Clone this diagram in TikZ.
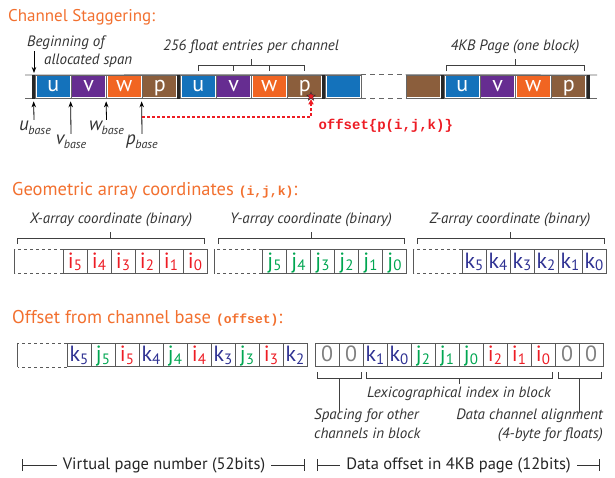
\documentclass[tikz,border=0pt]{standalone}
\usepackage{fontspec}
\setmainfont{PT Sans}
\newfontfamily\codefont{Liberation Mono}
\usetikzlibrary{arrows.meta,shapes.geometric}

\definecolor{ublue}{RGB}{20,114,187}
\definecolor{vpurple}{RGB}{102,45,145}
\definecolor{worange}{RGB}{241,101,34}
\definecolor{pbrown}{RGB}{139,94,60}
\definecolor{headorange}{RGB}{242,112,47}
\definecolor{ired}{RGB}{237,28,36}
\definecolor{jgreen}{RGB}{0,166,81}
\definecolor{kblue}{RGB}{46,49,146}

\newcommand{\bitlbl}[2]{#1\raisebox{-2.5pt}{\fontsize{15}{15}\selectfont #2}}
\newcommand{\baselbl}[1]{{\fontsize{19}{19}\selectfont #1}\kern-0.5pt\raisebox{-4pt}{\fontsize{12}{12}\selectfont base}}

\tikzset{inset/.style={path picture={
    \fill[#1] ([shift={(1.4pt,-1.4pt)}]path picture bounding box.north west)
        rectangle ([shift={(-1.4pt,1.4pt)}]path picture bounding box.south east);}}}

\begin{document}
\begin{tikzpicture}[x=1pt, y=-1pt]
    \tikzstyle{chan}=[
        rectangle,
        draw = black!60,
        line width = 0.7pt,
        inner sep = 0pt,
        minimum width = 35.5pt,
        minimum height = 23.5pt,
        text = white,
        font = \fontsize{22}{22}\selectfont,
        text height = 13pt,
        text depth = 3pt
    ]
    \tikzstyle{bit}=[
        rectangle,
        draw = black!65,
        line width = 0.7pt,
        inner sep = 0pt,
        minimum width = 24pt,
        minimum height = 23.5pt,
        font = \fontsize{22}{22}\selectfont,
        text height = 15pt,
        text depth = 1.5pt
    ]
    \tikzstyle{ibit}=[bit, text=ired]
    \tikzstyle{jbit}=[bit, text=jgreen]
    \tikzstyle{kbit}=[bit, text=kblue]
    \tikzstyle{zbit}=[bit, text=black!50]
    \tikzstyle{head}=[inner sep=0pt, text=headorange, font=\fontsize{18.5}{18.5}\selectfont]
    \tikzstyle{note}=[inner sep=1pt, text=black!80, font=\fontsize{15}{19}\selectfont\itshape]
    \tikzstyle{rulerlabel}=[inner xsep=6pt, fill=white, text=black!85, font=\fontsize{16.5}{16.5}\selectfont]
    \tikzstyle{strip}=[black!60, line width=0.8pt]
    \tikzstyle{gapline}=[black!60, line width=0.8pt, dash pattern=on 5pt off 4pt]
    \tikzstyle{bitgap}=[black!65, line width=0.7pt, dash pattern=on 3pt off 3pt]
    \tikzstyle{bitedge}=[black!65, line width=0.7pt]
    \tikzstyle{sepbar}=[black!85, line width=3pt]
    \tikzstyle{bracket}=[black!75, line width=0.7pt]
    \tikzstyle{ptr}=[black, line width=0.8pt, -{Stealth[length=6pt,width=4.5pt]}]
    \tikzstyle{offline}=[color=ired, line width=1.1pt, dash pattern=on 3pt off 2pt,
        -{Triangle[length=5pt,width=5pt]}]
    \tikzstyle{ruler}=[black!80, line width=0.7pt, {Bar[width=12pt]}-{Bar[width=12pt]}]

    \useasboundingbox (0,0) rectangle (615,477);

    % channel staggering
    \node[head, anchor=base west, font=\fontsize{17}{17}\selectfont] (head1) at (8,21) {Channel Staggering:};

    \node[chan, inset=ublue]    (a-u)    at (53.25, 86.75)  {u};
    \node[chan, inset=vpurple]  (a-v)    at (88.75, 86.75)  {v};
    \node[chan, inset=worange]  (a-w)    at (124.25, 86.75) {w};
    \node[chan, inset=pbrown]   (a-p)    at (159.75, 86.75) {p};
    \node[chan, inset=ublue]    (b-u)    at (198.25, 86.75) {u};
    \node[chan, inset=vpurple]  (b-v)    at (233.75, 86.75) {v};
    \node[chan, inset=worange]  (b-w)    at (269.25, 86.75) {w};
    \node[chan, inset=pbrown]   (b-p)    at (304.75, 86.75) {p};
    \node[chan, inset=ublue]    (b-next) at (343.25, 86.75) {};
    \node[chan, inset=pbrown]   (c-prev) at (423.75, 86.75) {};
    \node[chan, inset=ublue]    (c-u)    at (462.25, 86.75) {u};
    \node[chan, inset=vpurple]  (c-v)    at (497.75, 86.75) {v};
    \node[chan, inset=worange]  (c-w)    at (533.25, 86.75) {w};
    \node[chan, inset=pbrown]   (c-p)    at (568.75, 86.75) {p};

    \coordinate (strip west) at (25, 75);
    \coordinate (strip east) at (597, 75);
    \draw[strip] (strip west) -- (b-next.north east);
    \draw[strip] (strip west |- b-next.south) -- (b-next.south east);
    \draw[gapline] (b-next.north east) -- (c-prev.north west);
    \draw[gapline] (b-next.south east) -- (c-prev.south west);
    \draw[strip] (c-prev.north west) -- (strip east);
    \draw[strip] (c-prev.south west) -- (strip east |- c-prev.south);

    \draw[sepbar] ([xshift=-1.5pt]a-u.north west) -- ([xshift=-1.5pt]a-u.south west);
    \draw[sepbar] ([xshift=-1.5pt]b-u.north west) -- ([xshift=-1.5pt]b-u.south west);
    \draw[sepbar] ([xshift=-1.5pt]b-next.north west) -- ([xshift=-1.5pt]b-next.south west);
    \draw[sepbar] ([xshift=-1.5pt]c-u.north west) -- ([xshift=-1.5pt]c-u.south west);
    \draw[sepbar] ([xshift=1.5pt]c-p.north east) -- ([xshift=1.5pt]c-p.south east);

    \node[note, anchor=west] (begin1) at (26,43) {Beginning of};
    \node[note, anchor=west] (begin2) at (43,61) {allocated span};
    \coordinate (span start) at (34,75);
    \draw[ptr] (span start |- begin1.south) -- ([yshift=2pt]span start);

    \node[note] (perchan) at (251,47) {256 float entries per channel};
    \draw[bracket] (198.25,71) |- (304.75,65.5) -- (304.75,71);
    \draw[bracket] (233.75,65.5) -- (233.75,71);
    \draw[bracket] (269.25,65.5) -- (269.25,71);
    \draw[bracket] (251.5,65.5) -- (251.5,58.5);

    \node[note] (page) at (515,47) {4KB Page (one block)};
    \draw[bracket] (446,71) |- (584,65.5) -- (584,71);
    \draw[bracket] (515,65.5) -- (515,58.5);

    \node[note] (ubase) at (35,128)  {\baselbl{u}};
    \node[note] (vbase) at (71,142)  {\baselbl{v}};
    \node[note] (wbase) at (106.5,128) {\baselbl{w}};
    \node[note] (pbase) at (142,142) {\baselbl{p}};
    \draw[ptr] (ubase.north -| span start) -- ([shift={(-1.5pt,-2.5pt)}]a-u.south west);
    \draw[ptr] (vbase.north) -- ([yshift=-2.5pt]a-v.south west);
    \draw[ptr] (wbase.north) -- ([yshift=-2.5pt]a-w.south west);
    \draw[ptr] (pbase.north) -- ([yshift=-2.5pt]a-p.south west);

    \node[star, star points=5, star point ratio=2.3, fill=ired, draw=black!80,
          line width=0.5pt, minimum size=9pt, inner sep=0pt] (target) at (311,96.5) {};
    \coordinate (pmark) at (142,117);
    \draw[offline] (pmark) -| ([yshift=-0.5pt]target.south);
    \node[anchor=west, text=ired, font=\fontsize{14}{14}\codefont\bfseries] (offtext) at (315,126) {offset\{p(i,j,k)\}};

    % geometric array coordinates
    \node[head, anchor=base west] (head2) at (12,195) {Geometric array coordinates {\fontsize{13}{13}\codefont\bfseries (i,j,k)}:};

    \node[note] (xlab) at (111,220) {X-array coordinate (binary)};
    \node[note] (ylab) at (311,220) {Y-array coordinate (binary)};
    \node[note] (zlab) at (510,220) {Z-array coordinate (binary)};
    \draw[bracket] (17,244) |- (204,238) -- (204,244);
    \draw[bracket] (110.5,238) -- (110.5,232);
    \draw[bracket] (218,244) |- (404,238) -- (404,244);
    \draw[bracket] (311,238) -- (311,232);
    \draw[bracket] (417,244) |- (604,238) -- (604,244);
    \draw[bracket] (510.5,238) -- (510.5,232);

    \node[ibit] (x-i5) at (75, 261.5)  {\bitlbl{i}{5}};
    \node[ibit] (x-i4) at (99, 261.5)  {\bitlbl{i}{4}};
    \node[ibit] (x-i3) at (123, 261.5) {\bitlbl{i}{3}};
    \node[ibit] (x-i2) at (147, 261.5) {\bitlbl{i}{2}};
    \node[ibit] (x-i1) at (171, 261.5) {\bitlbl{i}{1}};
    \node[ibit] (x-i0) at (195, 261.5) {\bitlbl{i}{0}};
    \node[jbit] (y-j5) at (274.5, 261.5) {\bitlbl{j}{5}};
    \node[jbit] (y-j4) at (298.5, 261.5) {\bitlbl{j}{4}};
    \node[jbit] (y-j3) at (322.5, 261.5) {\bitlbl{j}{3}};
    \node[jbit] (y-j2) at (346.5, 261.5) {\bitlbl{j}{2}};
    \node[jbit] (y-j1) at (370.5, 261.5) {\bitlbl{j}{1}};
    \node[jbit] (y-j0) at (394.5, 261.5) {\bitlbl{j}{0}};
    \node[kbit] (z-k5) at (474, 261.5) {\bitlbl{k}{5}};
    \node[kbit] (z-k4) at (498, 261.5) {\bitlbl{k}{4}};
    \node[kbit] (z-k3) at (522, 261.5) {\bitlbl{k}{3}};
    \node[kbit] (z-k2) at (546, 261.5) {\bitlbl{k}{2}};
    \node[kbit] (z-k1) at (570, 261.5) {\bitlbl{k}{1}};
    \node[kbit] (z-k0) at (594, 261.5) {\bitlbl{k}{0}};

    \draw[bitgap] (x-i5.north west) -- ++(-48,0);
    \draw[bitgap] (x-i5.south west) -- ++(-48,0);
    \draw[bitedge] ([xshift=-48pt]x-i5.north west) -- ([xshift=-48pt]x-i5.south west);
    \draw[bitgap] (y-j5.north west) -- ++(-48,0);
    \draw[bitgap] (y-j5.south west) -- ++(-48,0);
    \draw[bitedge] ([xshift=-48pt]y-j5.north west) -- ([xshift=-48pt]y-j5.south west);
    \draw[bitgap] (z-k5.north west) -- ++(-48,0);
    \draw[bitgap] (z-k5.south west) -- ++(-48,0);
    \draw[bitedge] ([xshift=-48pt]z-k5.north west) -- ([xshift=-48pt]z-k5.south west);

    % offset from channel base
    \node[head, anchor=base west] (head3) at (12,323) {Offset from channel base {\fontsize{13}{13}\codefont\bfseries (offset)}:};

    \node[kbit] (o-k5) at (79, 355)  {\bitlbl{k}{5}};
    \node[jbit] (o-j5) at (103, 355) {\bitlbl{j}{5}};
    \node[ibit] (o-i5) at (127, 355) {\bitlbl{i}{5}};
    \node[kbit] (o-k4) at (151, 355) {\bitlbl{k}{4}};
    \node[jbit] (o-j4) at (175, 355) {\bitlbl{j}{4}};
    \node[ibit] (o-i4) at (199, 355) {\bitlbl{i}{4}};
    \node[kbit] (o-k3) at (223, 355) {\bitlbl{k}{3}};
    \node[jbit] (o-j3) at (247, 355) {\bitlbl{j}{3}};
    \node[ibit] (o-i3) at (271, 355) {\bitlbl{i}{3}};
    \node[kbit] (o-k2) at (295, 355) {\bitlbl{k}{2}};
    \node[zbit] (o-z3) at (327, 355) {0};
    \node[zbit] (o-z2) at (351, 355) {0};
    \node[kbit] (o-k1) at (375, 355) {\bitlbl{k}{1}};
    \node[kbit] (o-k0) at (399, 355) {\bitlbl{k}{0}};
    \node[jbit] (o-j2) at (423, 355) {\bitlbl{j}{2}};
    \node[jbit] (o-j1) at (447, 355) {\bitlbl{j}{1}};
    \node[jbit] (o-j0) at (471, 355) {\bitlbl{j}{0}};
    \node[ibit] (o-i2) at (495, 355) {\bitlbl{i}{2}};
    \node[ibit] (o-i1) at (519, 355) {\bitlbl{i}{1}};
    \node[ibit] (o-i0) at (543, 355) {\bitlbl{i}{0}};
    \node[zbit] (o-z1) at (567, 355) {0};
    \node[zbit] (o-z0) at (591, 355) {0};

    \draw[bitgap] (o-k5.north west) -- ++(-49,0);
    \draw[bitgap] (o-k5.south west) -- ++(-49,0);
    \draw[bitedge] ([xshift=-49pt]o-k5.north west) -- ([xshift=-49pt]o-k5.south west);

    \draw[bracket] (317,372) |- (361,378) -- (361,372);
    \draw[bracket] (339,378) -- (339,412);
    \draw[bracket] (366,372) |- (552,378) -- (552,372);
    \draw[bracket] (459,378) -- (459,384);
    \draw[bracket] (558,372) |- (601,378) -- (601,372);
    \draw[bracket] (579,378) -- (579,412);

    \node[note] (lexi) at (459,394) {Lexicographical index in block};
    \node[note, anchor=north west, align=left] (spacing) at (313,408) {Spacing for other\\channels in block};
    \node[note, anchor=north east, align=right] (align) at (604,408) {Data channel alignment\\(4-byte for floats)};

    \coordinate (vpn west) at (22,465);
    \coordinate (vpn east) at (305,465);
    \draw[ruler] (vpn west) -- (vpn east);
    \node[rulerlabel] (vpn) at (164,465) {Virtual page number (52bits)};
    \coordinate (dof west) at (317,465);
    \coordinate (dof east) at (600,465);
    \draw[ruler] (dof west) -- (dof east);
    \node[rulerlabel] (dof) at (458.5,465) {Data offset in 4KB page (12bits)};

\end{tikzpicture}
\end{document}
